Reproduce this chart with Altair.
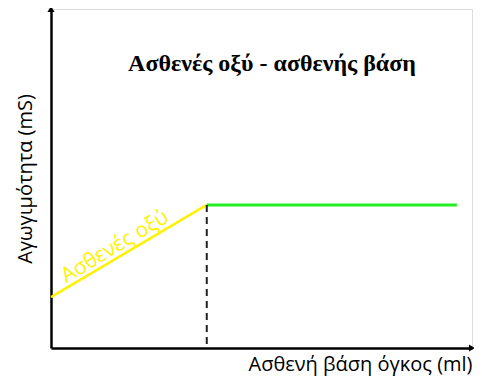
import altair as alt
import pandas as pd

# data
acid_x = [0.0, 37.0]
acid_y = [15.0, 42.2]
base_x = [37.0, 96.4]
base_y = [42.2, 42.2]
eq_x = [37.0]
eq_y_top = [42.2]
eq_y_bottom = [0.0]

title_text = "Ασθενές οξύ - ασθενής βάση"
x_title = "Ασθενή βάση όγκος (ml)"
y_title = "Αγωγιμότητα (mS)"
acid_label = "Ασθενές οξύ"

W, H = 421, 339
xs = alt.Scale(domain=[0, 100], nice=False, zero=False)
ys = alt.Scale(domain=[0, 100], nice=False, zero=False)

acid_df = pd.DataFrame({"x": acid_x, "y": acid_y})
base_df = pd.DataFrame({"x": base_x, "y": base_y})
eq_df = pd.DataFrame({"x": eq_x, "y": eq_y_top, "y2": eq_y_bottom})

xaxis = alt.Axis(domain=True, domainColor="black", domainWidth=2.5, ticks=False, labels=False,
                 grid=False, title=x_title, titleAnchor="end", titleFont="Open Sans",
                 titleFontSize=20, titleFontWeight="normal", titleColor="black", titlePadding=6)
yaxis = alt.Axis(domain=True, domainColor="black", domainWidth=2.5, ticks=False, labels=False,
                 grid=False, title=y_title, titleFont="Open Sans", titleFontSize=20,
                 titleFontWeight="normal", titleColor="black", titlePadding=16)

axes_layer = alt.Chart(pd.DataFrame({"x": [0], "y": [0]})).mark_point(opacity=0).encode(
    x=alt.X("x:Q", scale=xs, axis=xaxis), y=alt.Y("y:Q", scale=ys, axis=yaxis))

acid = alt.Chart(acid_df).mark_line(color="#FFF200", strokeWidth=2.5).encode(
    x=alt.X("x:Q", scale=xs), y=alt.Y("y:Q", scale=ys))
base = alt.Chart(base_df).mark_line(color="#22EE22", strokeWidth=3).encode(
    x=alt.X("x:Q", scale=xs), y=alt.Y("y:Q", scale=ys))
eq = alt.Chart(eq_df).mark_rule(color="#222222", strokeWidth=2, strokeDash=[7, 5]).encode(
    x=alt.X("x:Q", scale=xs), y=alt.Y("y:Q", scale=ys), y2="y2:Q")
arrow_r = alt.Chart(pd.DataFrame({"x": [100], "y": [0]})).mark_point(
    shape="triangle-right", filled=True, color="black", size=50, opacity=1).encode(
    x=alt.X("x:Q", scale=xs), y=alt.Y("y:Q", scale=ys))
arrow_u = alt.Chart(pd.DataFrame({"x": [0], "y": [100]})).mark_point(
    shape="triangle-up", filled=True, color="black", size=50, opacity=1).encode(
    x=alt.X("x:Q", scale=xs), y=alt.Y("y:Q", scale=ys))

title = alt.Chart(pd.DataFrame({"t": [title_text]})).mark_text(
    font="Liberation Serif", fontWeight="bold", fontSize=24, color="black",
    align="center", baseline="middle").encode(
    text="t:N", x=alt.value(221), y=alt.value(55))

label = alt.Chart(pd.DataFrame({"t": [acid_label]})).mark_text(
    font="Open Sans", fontSize=21, color="#FFF200", angle=329,
    align="center", baseline="middle").encode(
    text="t:N", x=alt.value(64), y=alt.value(238))

chart = alt.layer(axes_layer, acid, base, eq, arrow_r, arrow_u, title, label).properties(
    width=W, height=H,
    autosize=alt.AutoSizeParams(type="none"),
    padding={"left": 43, "top": 1, "right": 2, "bottom": 32},
).configure_view(strokeOpacity=0, strokeWidth=0).configure(background="white")

chart.save("out.html", embed_options={"renderer": "svg", "actions": False})
